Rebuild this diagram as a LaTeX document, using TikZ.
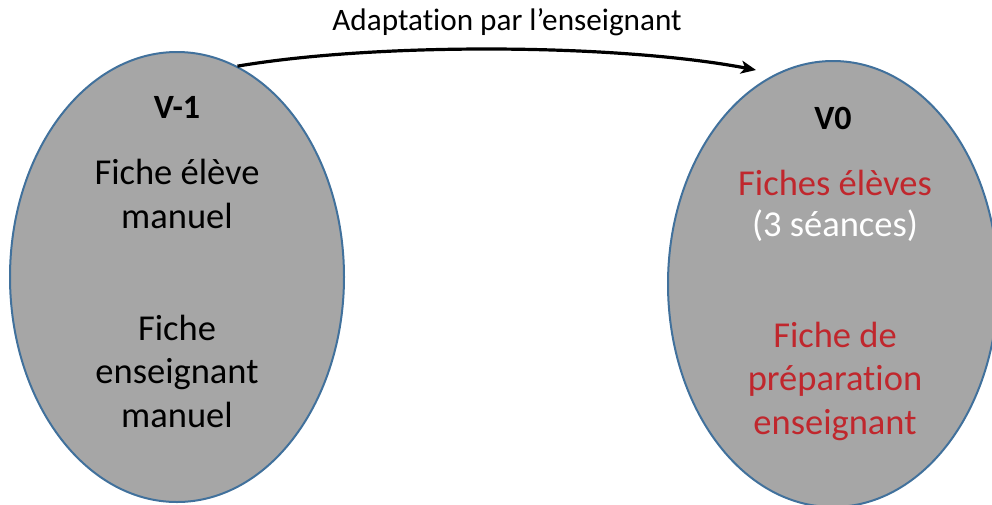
\documentclass[tikz,border=0pt]{standalone}
\usepackage{fontspec}
\setmainfont{Carlito}[Ligatures={NoCommon,NoContextual,NoRequired},Contextuals={NoAlternate}]
\usetikzlibrary{shapes.geometric,arrows.meta}
\definecolor{ovalfill}{RGB}{166,166,166}
\definecolor{ovalline}{RGB}{65,113,156}
\definecolor{redtext}{RGB}{192,39,45}
% separate t and i so Carlito keeps them as two glyphs
\newcommand{\tisep}{t\kern0pt i}
\tikzset{
  oval/.style={ellipse, fill=ovalfill, draw=ovalline, line width=2pt, inner sep=0pt},
  txt/.style={font=\fontsize{36.5}{43.5}\selectfont, align=center, inner sep=0pt},
  ttl/.style={font=\fontsize{34}{40}\selectfont\bfseries, inner sep=0pt},
  flow/.style={line width=3.2pt, -{Stealth[length=15pt,width=13pt,inset=4pt]}}
}
\begin{document}
\begin{tikzpicture}[x=1pt,y=-1pt]
\useasboundingbox (0,0) rectangle (992,504);
% the two versions
\node[oval, minimum width=334pt, minimum height=450pt] (l) at (177,277) {};
\node[oval, minimum width=330pt, minimum height=446pt] (r) at (833,284) {};
% version V-1
\node[ttl] (ltitle) at (177,107) {V-1};
\node[txt, anchor=center] (lstud) at (177,194) {Fiche élève\\manuel};
\node[txt, anchor=center] (lteach) at (177,371) {Fiche\\enseignant\\manuel};
% version V0
\node[ttl] (rtitle) at (833,118) {V0};
\node[txt, text=redtext] (rstud) at (835,183) {Fiches élèves};
\node[txt, text=white] (rsess) at (835,226) {(3 séances)};
\node[txt, text=redtext] (rteach) at (835,381) {Fiche de\\prépara\tisep on\\enseignant};
% adaptation arrow
\coordinate (aend) at (756,70);
\draw[flow] (l.74) .. controls (380,42) and (620,44) .. (aend);
\node[font=\fontsize{31.2}{37}\selectfont, inner sep=0pt] (alabel) at (507,22) {Adapta\tisep on par l’enseignant};
\end{tikzpicture}
\end{document}
